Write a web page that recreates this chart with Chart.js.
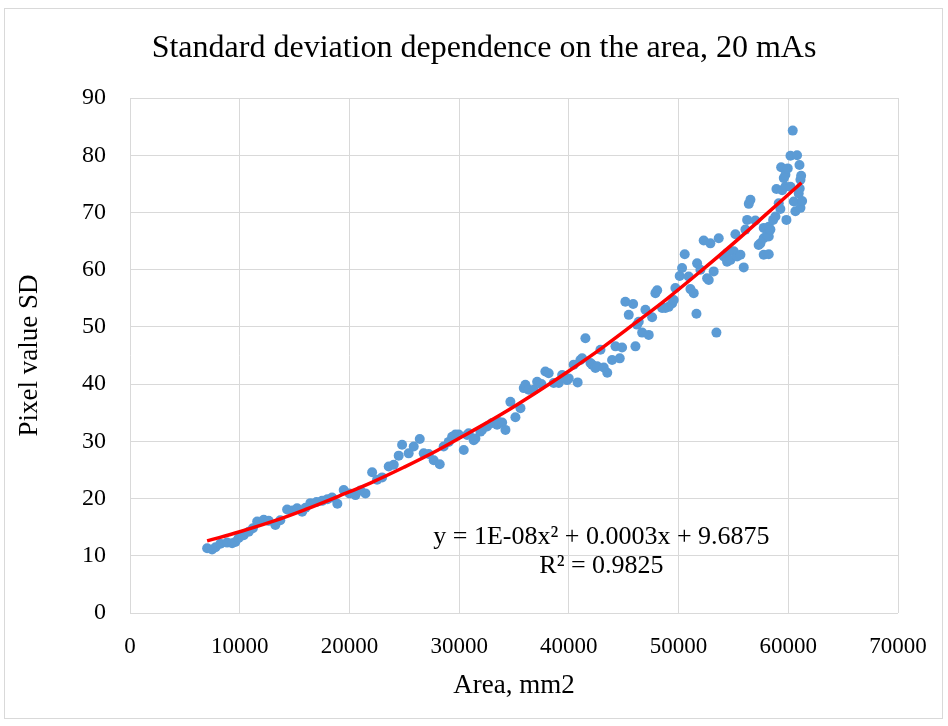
<!DOCTYPE html>
<html>
<head>
<meta charset="utf-8">
<script src="https://cdn.jsdelivr.net/npm/chart.js@4.4.1/dist/chart.umd.min.js"></script>
<style>
  html, body { margin: 0; padding: 0; background: #fff; }
  #wrap { width: 948px; height: 726px; }
</style>
</head>
<body>
<div id="wrap"><canvas id="sdChart" width="948" height="726"></canvas></div>
<script>
// measured points: area (mm2) and pixel value SD
const areaValues = [
  7030, 7480, 7800, 8240, 8850, 9310, 9600, 9910, 10360, 10820,
  11200, 11590, 12190, 12640, 13250, 13700, 14320, 14800, 15230, 15690,
  16000, 16440, 17000, 17510, 18000, 18420, 18900, 19480, 20000, 20550,
  21000, 21460, 22070, 22520, 22980, 23580, 24040, 24490, 24800, 25400,
  25860, 26410, 26770, 27230, 27680, 28230, 28590, 29050, 29360, 29660,
  29960, 30420, 30730, 30870, 31330, 31480, 31940, 32090, 32550, 33000,
  33460, 33610, 33920, 34220, 34670, 35130, 35590, 35890, 36040, 36340,
  36800, 37110, 37500, 37860, 38160, 38620, 39080, 39390, 39840, 39990,
  40440, 40800, 41050, 41210, 41510, 41970, 42120, 42420, 42580, 42880,
  43180, 43500, 43940, 44250, 44640, 44850, 45150, 45460, 45860, 46070,
  46220, 46370, 46680, 46980, 47280, 47590, 47890, 48050, 48500, 48800,
  49100, 49410, 49560, 49710, 50100, 50320, 50560, 50920, 51080, 51380,
  51630, 51690, 51990, 52290, 52600, 52750, 52900, 53200, 53450, 53660,
  54120, 54420, 54420, 54730, 55030, 55180, 55340, 55640, 55940, 56090,
  56250, 56400, 56550, 57000, 57300, 57460, 57760, 57760, 57760, 58070,
  58220, 58220, 58220, 58370, 58620, 58830, 58920, 59130, 59280, 59350,
  59440, 59590, 59740, 59740, 59830, 59950, 60200, 60200, 60405, 60500,
  60650, 60800, 60950, 61020, 61040, 61110, 61110, 61170, 61260
];
const sdValues = [
  11.3, 11.1, 11.5, 12.1, 12.3, 12.2, 12.4, 13.1, 13.6, 14.2,
  14.8, 16.0, 16.3, 16.1, 15.4, 16.2, 18.1, 17.9, 18.3, 17.7,
  18.4, 19.2, 19.4, 19.6, 19.9, 20.2, 19.1, 21.5, 20.9, 20.6,
  21.4, 20.9, 24.6, 23.3, 23.7, 25.6, 25.9, 27.5, 29.4, 27.9,
  29.1, 30.4, 27.9, 27.8, 26.7, 26.0, 29.1, 29.9, 30.8, 31.2,
  31.2, 28.5, 31.1, 31.4, 30.2, 30.5, 31.7, 32.0, 32.6, 33.2,
  32.9, 33.4, 33.3, 32.0, 36.9, 34.2, 35.8, 39.3, 39.9, 39.0,
  39.0, 40.4, 40.0, 42.2, 41.9, 40.2, 40.2, 41.6, 40.7, 41.0,
  43.4, 40.3, 44.2, 44.5, 48.0, 43.7, 43.4, 42.8, 43.1, 46.0,
  42.9, 42.0, 44.2, 46.6, 44.5, 46.4, 54.4, 52.1, 54.0, 46.6,
  50.4, 50.9, 49.0, 53.0, 48.6, 51.7, 55.9, 56.4, 53.3, 53.3,
  53.5, 54.1, 54.7, 56.8, 58.9, 60.3, 62.7, 58.8, 56.6, 55.9,
  52.3, 61.1, 60.0, 65.1, 58.5, 58.2, 64.6, 59.7, 49.0, 65.5,
  62.3, 62.9, 61.4, 61.7, 63.2, 66.2, 62.3, 62.6, 60.4, 67.0,
  68.7, 71.5, 72.2, 68.6, 64.3, 64.6, 65.5, 62.6, 67.3, 66.1,
  67.5, 65.8, 62.7, 67.0, 68.7, 69.3, 74.1, 71.6, 70.6, 77.9,
  73.9, 76.0, 76.6, 74.5, 68.7, 77.7, 79.9, 74.5, 84.3, 71.9,
  70.2, 80.0, 73.3, 78.3, 74.2, 75.7, 70.8, 76.4, 72.0
];

// trendline
const trendArea = [7030, 10000, 13000, 16000, 19000, 22000, 25000, 28000, 31000, 34000,
  37000, 40000, 43000, 46000, 49000, 52000, 55000, 58000, 61200];
const trendSD = [12.6, 14.2, 16.0, 18.1, 20.4, 22.8, 25.5, 28.4, 31.6, 34.9,
  38.5, 42.3, 46.3, 50.6, 55.0, 59.7, 64.6, 69.7, 75.2];

const xTicks = [0, 10000, 20000, 30000, 40000, 50000, 60000, 70000];
const yTicks = [0, 10, 20, 30, 40, 50, 60, 70, 80, 90];

const chartTitle = 'Standard deviation dependence on the area, 20 mAs';
const equationText = 'y = 1E-08x\u00B2 + 0.0003x + 9.6875';
const rSquaredText = 'R\u00B2 = 0.9825';

const FONT = "'Liberation Serif', 'Times New Roman', serif";

const points = areaValues.map((a, i) => ({ x: a, y: sdValues[i] }));
const trend = trendArea.map((a, i) => ({ x: a, y: trendSD[i] }));

// outer frame, title and trendline label
const extras = {
  id: 'extras',
  beforeDraw(chart) {
    const ctx = chart.ctx;
    ctx.save();
    ctx.fillStyle = '#fff';
    ctx.fillRect(0, 0, chart.width, chart.height);
    ctx.strokeStyle = '#d9d9d9';
    ctx.lineWidth = 1;
    ctx.strokeRect(4.5, 8.5, 938, 710);
    ctx.fillStyle = '#000';
    ctx.font = '32px ' + FONT;
    ctx.textAlign = 'center';
    ctx.textBaseline = 'middle';
    ctx.fillText(chartTitle, 484, 49);
    ctx.restore();
  },
  afterDraw(chart) {
    const ctx = chart.ctx;
    const xs = chart.scales.x, ys = chart.scales.y;
    const cx = xs.getPixelForValue(42970);
    ctx.save();
    ctx.fillStyle = '#000';
    ctx.font = '26px ' + FONT;
    ctx.textAlign = 'center';
    ctx.textBaseline = 'middle';
    ctx.fillText(equationText, cx, ys.getPixelForValue(13.3));
    ctx.fillText(rSquaredText, cx, ys.getPixelForValue(8.2));
    ctx.restore();
  }
};

const ctx = document.getElementById('sdChart').getContext('2d');
new Chart(ctx, {
  type: 'scatter',
  data: {
    datasets: [
      {
        label: 'Poly. trend',
        data: trend,
        showLine: true,
        borderColor: '#ff0000',
        borderWidth: 3.5,
        pointRadius: 0,
        tension: 0.4,
        fill: false
      },
      {
        label: 'SD',
        data: points,
        backgroundColor: '#5b9bd5',
        borderWidth: 0,
        pointRadius: 5
      }
    ]
  },
  options: {
    responsive: false,
    animation: false,
    layout: { padding: { left: 0, right: 50, top: 98, bottom: 0 } },
    scales: {
      x: {
        type: 'linear',
        min: 0,
        max: 70000,
        afterBuildTicks: s => { s.ticks = xTicks.map(v => ({ value: v })); },
        afterFit: s => { s.height = 113; },
        grid: { color: '#d9d9d9', lineWidth: 1, drawTicks: false },
        border: { display: false },
        ticks: {
          color: '#000',
          padding: 20,
          maxRotation: 0,
          font: { family: FONT, size: 23 },
          callback: v => String(v)
        },
        title: {
          display: true,
          text: 'Area, mm2',
          color: '#000',
          font: { family: FONT, size: 27 },
          padding: { bottom: 24 }
        }
      },
      y: {
        min: 0,
        max: 90,
        afterBuildTicks: s => { s.ticks = yTicks.map(v => ({ value: v })); },
        afterFit: s => { s.width = 130; },
        grid: { color: '#d9d9d9', lineWidth: 1, drawTicks: false },
        border: { display: false },
        ticks: {
          color: '#000',
          padding: 24,
          font: { family: FONT, size: 24 }
        },
        title: {
          display: true,
          text: 'Pixel value SD',
          color: '#000',
          font: { family: FONT, size: 27 },
          padding: { top: 14 }
        }
      }
    },
    plugins: {
      legend: { display: false },
      tooltip: { enabled: false },
      title: { display: false }
    }
  },
  plugins: [extras]
});
</script>
</body>
</html>
